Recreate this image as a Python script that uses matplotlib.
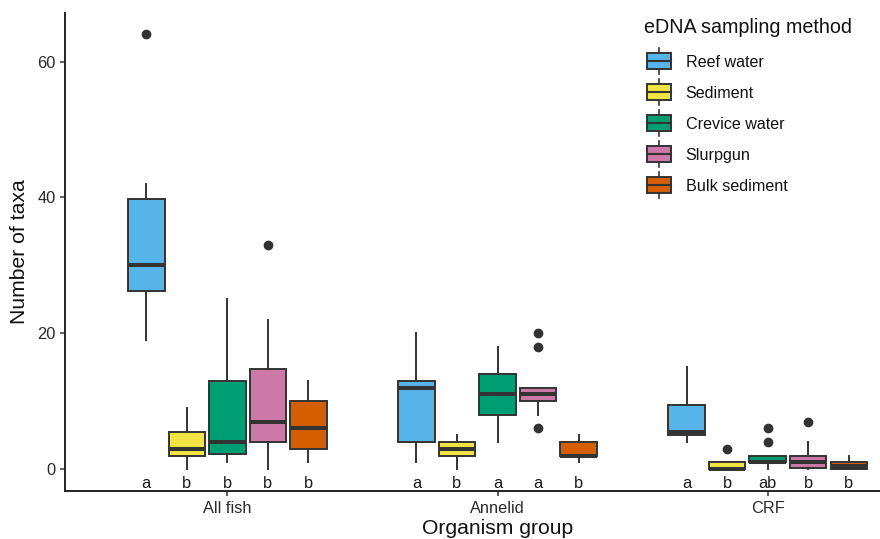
import matplotlib
matplotlib.use("Agg")
import matplotlib.pyplot as plt
from matplotlib.patches import Rectangle

plt.rcParams['font.family'] = ['Liberation Sans', 'DejaVu Sans']

GROUPS = ["All fish", "Annelid", "CRF"]
METHODS = ["Reef water", "Sediment", "Crevice water", "Slurpgun", "Bulk sediment"]
COLORS = ["#56B4E9", "#F0E442", "#009E73", "#CC79A7", "#D55E00"]

# box stats, one row per group, one entry per method
WHISLO = [[19, 0, 1, 0, 1], [1, 0, 4, 8, 1], [4, 0, 0, 0, 0]]
Q1 = [[26.3, 2, 2.25, 4, 3], [4, 2, 8, 10, 2], [5, 0, 1, 0.25, 0]]
MED = [[30, 3, 4, 7, 6], [12, 3, 11, 11, 2], [5.5, 0, 1, 1, 0.5]]
Q3 = [[39.8, 5.5, 13, 14.75, 10], [13, 4, 14, 12, 4], [9.5, 1, 2, 2, 1]]
WHISHI = [[42, 9, 25, 22, 13], [20, 5, 18, 12, 5], [15, 1, 2, 4, 2]]
FLIERS = [[[64], [], [], [33], []],
          [[], [], [], [20, 18, 6], []],
          [[], [3], [6, 4], [7], []]]
LETTERS = [["a", "b", "b", "b", "b"],
           ["a", "b", "a", "a", "b"],
           ["a", "b", "ab", "b", "b"]]

EDGE = "#333333"
OFFS = [-0.3, -0.15, 0.0, 0.15, 0.3]

fig = plt.figure(figsize=(8.8, 5.39), dpi=100)
ax = fig.add_axes([0.0741, 0.0891, 0.9825, 0.8874])

stats, pos, cols = [], [], []
for g in range(len(GROUPS)):
    for m in range(len(METHODS)):
        stats.append(dict(whislo=WHISLO[g][m], q1=Q1[g][m], med=MED[g][m],
                          q3=Q3[g][m], whishi=WHISHI[g][m], fliers=FLIERS[g][m]))
        pos.append(g + 1 + OFFS[m])
        cols.append(COLORS[m])

bp = ax.bxp(stats, positions=pos, widths=0.135, patch_artist=True,
            showcaps=False, manage_ticks=False,
            boxprops=dict(edgecolor=EDGE, linewidth=1.4),
            medianprops=dict(color=EDGE, linewidth=2.9, solid_capstyle="butt"),
            whiskerprops=dict(color=EDGE, linewidth=1.4),
            flierprops=dict(marker="o", markerfacecolor=EDGE, markeredgecolor=EDGE,
                            markersize=6))
for patch, c in zip(bp["boxes"], cols):
    patch.set_facecolor(c)

# significance letters under each box
for g in range(len(GROUPS)):
    for m in range(len(METHODS)):
        ax.text(g + 1 + OFFS[m], -2.8, LETTERS[g][m], ha="center", va="baseline",
                fontsize=11.8, color="#1a1a1a")

ax.set_xlim(0.4, 3.6)
ax.set_ylim(-3.2, 67.2)
ax.set_xticks([1, 2, 3])
ax.set_xticklabels(GROUPS)
ax.set_yticks([0, 20, 40, 60])
for s in ["top", "right"]:
    ax.spines[s].set_visible(False)
for s in ["left", "bottom"]:
    ax.spines[s].set_color("#222222")
    ax.spines[s].set_linewidth(1.4)
ax.tick_params(length=3.9, width=1.1, color="#333333", labelsize=11.8,
               labelcolor="#2a2a2a", pad=3)

# overlay in pixel coords for titles and legend
lax = fig.add_axes([0, 0, 1, 1])
lax.set_xlim(0, 880)
lax.set_ylim(539, 0)
lax.axis("off")

lax.text(19.6, 251.8, "Number of taxa", rotation=90, ha="center", va="center",
         fontsize=15.2, color="#111111")
lax.text(497.5, 533.5, "Organism group", ha="center", va="baseline",
         fontsize=15.2, color="#111111")

lax.text(644, 33, "eDNA sampling method", ha="left", va="baseline",
         fontsize=14.2, color="#111111")
for i, (name, c) in enumerate(zip(METHODS, COLORS)):
    yc = 61.3 + 31 * i
    xc = 659.3
    lax.plot([xc, xc], [yc - 13, yc + 13], color=EDGE, lw=1.2)
    lax.add_patch(Rectangle((xc - 12, yc - 8), 24, 16, facecolor=c,
                            edgecolor=EDGE, lw=1.4, zorder=3))
    lax.plot([xc - 12, xc + 12], [yc, yc], color=EDGE, lw=1.5, zorder=4)
    lax.text(685.7, yc + 5.7, name, ha="left", va="baseline", fontsize=11.6,
             color="#111111")

fig.savefig("out.png", dpi=100, facecolor="white")
